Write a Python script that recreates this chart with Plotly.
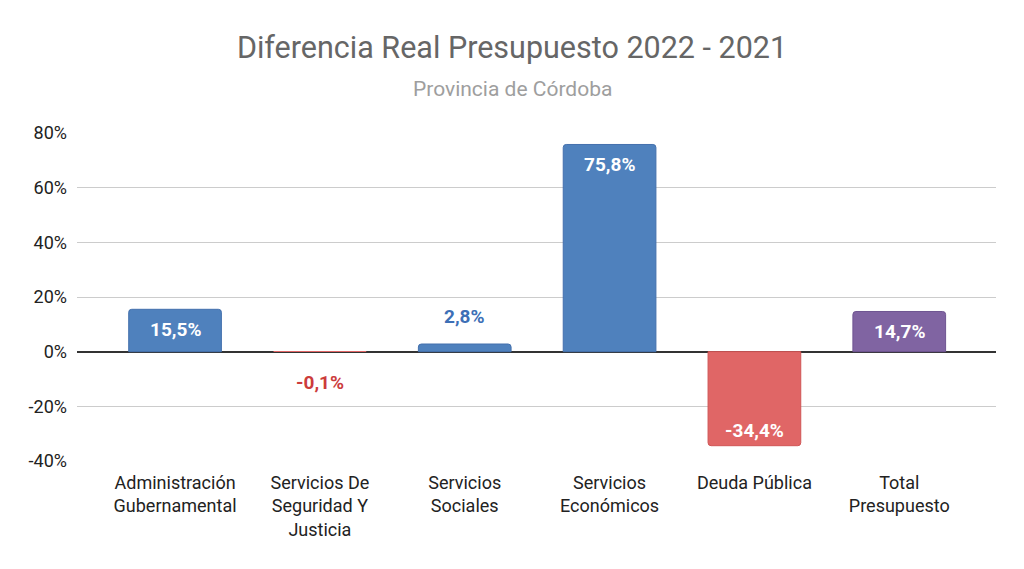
import plotly.graph_objects as go

categories = [
    "Administración<br>Gubernamental",
    "Servicios De<br>Seguridad Y<br>Justicia",
    "Servicios<br>Sociales",
    "Servicios<br>Económicos",
    "Deuda Pública",
    "Total<br>Presupuesto",
]
values = [0.155, -0.001, 0.028, 0.758, -0.344, 0.147]
bar_colors = ["#4f81bd", "#e06666", "#4f81bd", "#4f81bd", "#e06666", "#8064a2"]
edge_colors = ["#4470ad", "#d05555", "#4470ad", "#4470ad", "#d05555", "#6f5591"]
outside_colors = ["#3d6fb6", "#cc3c3c", "#3d6fb6", "#3d6fb6", "#cc3c3c", "#6f5591"]
y_ticks = [-0.4, -0.2, 0, 0.2, 0.4, 0.6, 0.8]
y_ticktext = [f"{round(t * 100)}%" for t in y_ticks]

# page body has an 8px margin, so the figure is sized to fit inside it
W, H = 1016, 561
ML, MR, MT, MB = 69, 28, 125, 108
center_x = 504  # horizontal centre of the page, in figure pixels

fig = go.Figure(go.Bar(
    x=list(range(len(categories))),
    y=values,
    width=0.64,
    marker=dict(
        color=bar_colors,
        line=dict(color=edge_colors, width=[1 if abs(v) > 0.005 else 0 for v in values]),
        cornerradius=3,
    ),
    hoverinfo="skip",
))

# value labels: inside the bar end for big bars, outside for tiny ones
annotations = []
for i, (v, oc) in enumerate(zip(values, outside_colors)):
    txt = f"{v * 100:.1f}%".replace(".", ",")
    if abs(v) > 0.05:
        shift = -20 if v > 0 else 15
        color = "white"
    else:
        shift = 28 if v >= 0 else -31
        color = oc
    annotations.append(dict(
        x=i, y=v, text=f"<b>{txt}</b>", showarrow=False,
        yanchor="middle", yshift=shift,
        font=dict(size=19, color=color, family="Roboto"),
    ))

annotations.append(dict(
    text="Provincia de Córdoba", showarrow=False,
    xref="paper", yref="paper",
    x=(center_x - ML) / (W - ML - MR), y=1.0, yanchor="middle", yshift=44,
    font=dict(size=21, color="#9e9e9e", family="Roboto"),
))

fig.update_layout(
    title=dict(
        text="Diferencia Real Presupuesto 2022 - 2021",
        x=center_x / W, xanchor="center", y=1 - 39 / H, yanchor="middle",
        font=dict(size=30.5, color="#666666", family="Roboto"),
    ),
    annotations=annotations,
    font=dict(family="Roboto", size=18, color="#222222"),
    paper_bgcolor="white",
    plot_bgcolor="white",
    width=W,
    height=H,
    margin=dict(l=ML, r=MR, t=MT, b=MB),
    showlegend=False,
    xaxis=dict(
        range=[-0.677, 5.668],
        tickvals=list(range(len(categories))),
        ticktext=categories,
        showgrid=False, showline=False, zeroline=False, ticks="",
        ticklabelstandoff=9,
        tickfont=dict(size=18, color="#222222"),
    ),
    yaxis=dict(
        range=[-0.4, 0.8],
        tickvals=y_ticks,
        ticktext=y_ticktext,
        gridcolor="#cccccc",
        gridwidth=1,
        zeroline=True,
        zerolinecolor="#333333",
        zerolinewidth=2,
        showline=False,
        ticks="",
        ticklabelstandoff=9,
        tickfont=dict(size=18, color="#222222"),
    ),
)

fig.write_html("out.html")
